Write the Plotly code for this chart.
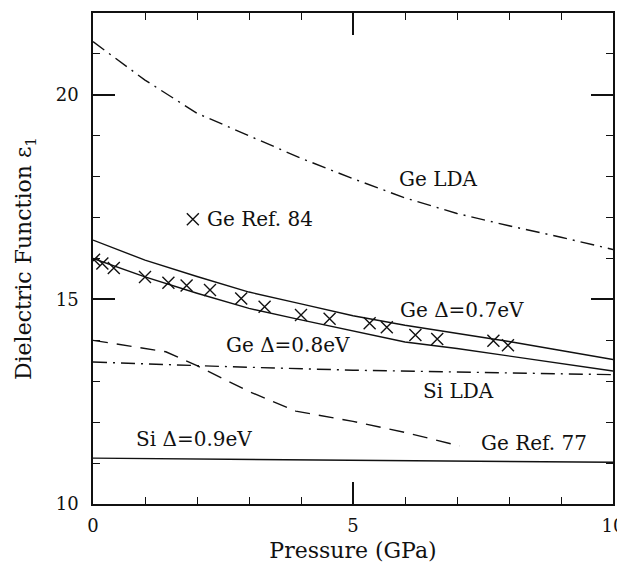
import plotly.graph_objects as go

# ---- data ----
pressure_grid = [0, 1, 2, 3, 4, 5, 6, 7, 8, 9, 10]
ge_lda = [21.3, 20.36, 19.55, 19.0, 18.45, 17.95, 17.48, 17.1, 16.8, 16.52, 16.22]
ge_d07 = [16.45, 15.96, 15.56, 15.18, 14.89, 14.6, 14.37, 14.17, 13.97, 13.75, 13.53]
ge_d08 = [16.0, 15.55, 15.15, 14.78, 14.5, 14.23, 13.96, 13.8, 13.62, 13.44, 13.25]
si_lda_x = [0, 2.5, 5, 7.5, 10]
si_lda = [13.47, 13.36, 13.27, 13.21, 13.16]
si_d09_x = [0, 10]
si_d09 = [11.12, 11.02]
ge_ref77_x = [0, 1.4, 2.0, 3.0, 3.9, 5.0, 6.0, 7.05]
ge_ref77 = [14.0, 13.72, 13.38, 12.75, 12.27, 12.02, 11.75, 11.42]
ge_ref84_x = [0.02, 0.18, 0.4, 1.0, 1.45, 1.8, 2.25, 2.85, 3.3, 4.0, 4.55, 5.32, 5.65, 6.2, 6.62, 7.7, 7.98]
ge_ref84 = [15.97, 15.88, 15.77, 15.55, 15.41, 15.34, 15.23, 15.02, 14.82, 14.62, 14.53, 14.42, 14.32, 14.13, 14.03, 13.99, 13.88]
key_marker_x = [1.92]
key_marker_y = [16.96]

x_ticks = [0, 5, 10]
y_ticks = [10, 15, 20]

labels = [
    ("Ge LDA", 6.63, 17.95, "center"),
    ("Ge Ref. 84", 2.16, 16.96, "left"),
    ("Ge Δ=0.7eV", 7.1, 14.75, "center"),
    ("Ge Δ=0.8eV", 3.75, 13.88, "center"),
    ("Si LDA", 7.03, 12.76, "center"),
    ("Ge Ref. 77", 8.48, 11.48, "center"),
    ("Si Δ=0.9eV", 1.95, 11.58, "center"),
]

FONT = "DejaVu Serif"
BLACK = "#111111"
LW = 1.4
XMARK = dict(symbol="x-thin-open", size=12, color=BLACK, line=dict(color=BLACK, width=1.4))

fig = go.Figure()
fig.add_trace(go.Scatter(x=pressure_grid, y=ge_lda, mode="lines",
                         line=dict(color=BLACK, width=LW, dash="14px,6px,2px,6px")))
fig.add_trace(go.Scatter(x=pressure_grid, y=ge_d07, mode="lines",
                         line=dict(color=BLACK, width=LW)))
fig.add_trace(go.Scatter(x=pressure_grid, y=ge_d08, mode="lines",
                         line=dict(color=BLACK, width=LW)))
fig.add_trace(go.Scatter(x=si_lda_x, y=si_lda, mode="lines",
                         line=dict(color=BLACK, width=LW, dash="14px,6px,2px,6px")))
fig.add_trace(go.Scatter(x=si_d09_x, y=si_d09, mode="lines",
                         line=dict(color=BLACK, width=LW)))
fig.add_trace(go.Scatter(x=ge_ref77_x, y=ge_ref77, mode="lines",
                         line=dict(color=BLACK, width=LW, dash="15px,9px")))
fig.add_trace(go.Scatter(x=ge_ref84_x, y=ge_ref84, mode="markers", marker=XMARK))
fig.add_trace(go.Scatter(x=key_marker_x, y=key_marker_y, mode="markers", marker=XMARK))

for text, x, y, anchor in labels:
    fig.add_annotation(x=x, y=y, text=text, showarrow=False, xanchor=anchor,
                       yanchor="middle", font=dict(family=FONT, size=20, color=BLACK))

axis_common = dict(
    showgrid=False, zeroline=False, showline=True, linecolor=BLACK, linewidth=1.5,
    mirror="allticks", ticks="inside", ticklen=22, tickwidth=1.5, tickcolor=BLACK,
    tickfont=dict(family=FONT, size=18, color=BLACK),
    automargin=False,
    minor=dict(dtick=1, ticks="inside", ticklen=7, tickwidth=1.3,
               tickcolor=BLACK, showgrid=False),
)

fig.update_xaxes(range=[0, 10], tickmode="array", tickvals=x_ticks, ticklabelstandoff=5,
                 title=dict(text="Pressure (GPa)", font=dict(family=FONT, size=22, color=BLACK), standoff=7),
                 **axis_common)
fig.update_yaxes(range=[10, 22], tickmode="array", tickvals=y_ticks, ticklabelstandoff=9,
                 title=dict(text="Dielectric Function ε<sub>1</sub>", font=dict(family=FONT, size=22, color=BLACK), standoff=18),
                 **axis_common)

# page body adds an 8px offset; size the figure so the plot frame lands where the reference has it
fig.update_layout(template="none", width=617, height=555, showlegend=False,
                  margin=dict(l=85, r=12, t=5, b=59),
                  plot_bgcolor="white", paper_bgcolor="white")

fig.write_html("out.html")
